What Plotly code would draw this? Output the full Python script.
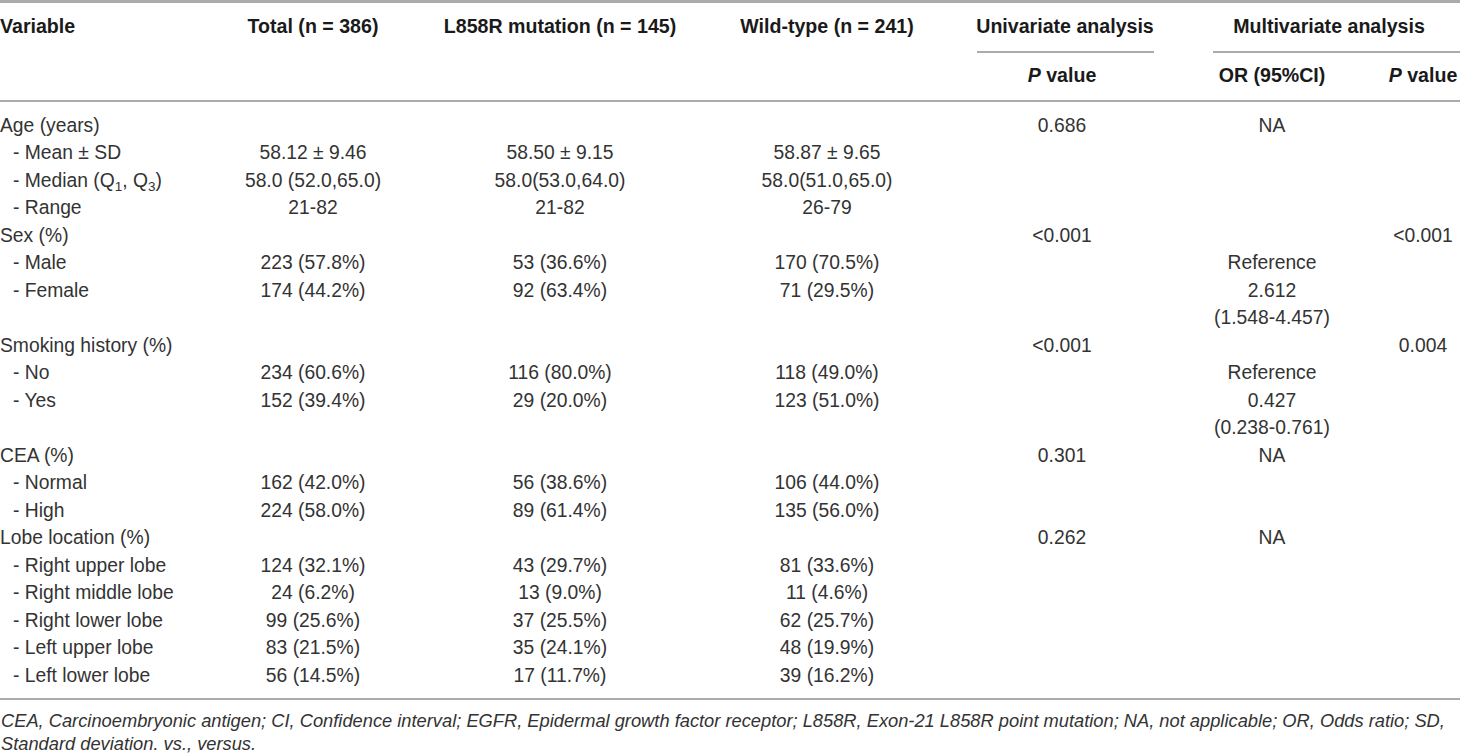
import plotly.graph_objects as go

# Table content
variables = [
    "Age (years)", "- Mean ± SD", "- Median (Q<sub>1</sub>, Q<sub>3</sub>)", "- Range",
    "Sex (%)", "- Male", "- Female", "",
    "Smoking history (%)", "- No", "- Yes", "",
    "CEA (%)", "- Normal", "- High",
    "Lobe location (%)", "- Right upper lobe", "- Right middle lobe",
    "- Right lower lobe", "- Left upper lobe", "- Left lower lobe",
]
total = [
    "", "58.12 ± 9.46", "58.0 (52.0,65.0)", "21-82",
    "", "223 (57.8%)", "174 (44.2%)", "",
    "", "234 (60.6%)", "152 (39.4%)", "",
    "", "162 (42.0%)", "224 (58.0%)",
    "", "124 (32.1%)", "24 (6.2%)", "99 (25.6%)", "83 (21.5%)", "56 (14.5%)",
]
l858r = [
    "", "58.50 ± 9.15", "58.0(53.0,64.0)", "21-82",
    "", "53 (36.6%)", "92 (63.4%)", "",
    "", "116 (80.0%)", "29 (20.0%)", "",
    "", "56 (38.6%)", "89 (61.4%)",
    "", "43 (29.7%)", "13 (9.0%)", "37 (25.5%)", "35 (24.1%)", "17 (11.7%)",
]
wild_type = [
    "", "58.87 ± 9.65", "58.0(51.0,65.0)", "26-79",
    "", "170 (70.5%)", "71 (29.5%)", "",
    "", "118 (49.0%)", "123 (51.0%)", "",
    "", "106 (44.0%)", "135 (56.0%)",
    "", "81 (33.6%)", "11 (4.6%)", "62 (25.7%)", "48 (19.9%)", "39 (16.2%)",
]
uni_p = [
    "0.686", "", "", "",
    "<0.001", "", "", "",
    "<0.001", "", "", "",
    "0.301", "", "",
    "0.262", "", "", "", "", "",
]
multi_or = [
    "NA", "", "", "",
    "", "Reference", "2.612", "(1.548-4.457)",
    "", "Reference", "0.427", "(0.238-0.761)",
    "NA", "", "",
    "NA", "", "", "", "", "",
]
multi_p = [
    "", "", "", "",
    "<0.001", "", "", "",
    "0.004", "", "", "",
    "", "", "",
    "", "", "", "", "", "",
]

header_top = ["Variable", "Total (n = 386)", "L858R mutation (n = 145)",
              "Wild-type (n = 241)", "Univariate analysis", "Multivariate analysis"]
header_sub = ["<i>P</i> value", "OR (95%CI)", "<i>P</i> value"]

footnote = [
    "CEA, Carcinoembryonic antigen; CI, Confidence interval; EGFR, Epidermal growth factor receptor; "
    "L858R, Exon-21 L858R point mutation; NA, not applicable; OR, Odds ratio; SD,",
    "Standard deviation. vs., versus.",
]

# layout (pixel units)
W, H = 1460, 755
row0, row_step = 127, 27.5
col_x = [313, 560, 827, 1062, 1272, 1423]
top_x = [313, 560, 827, 1065, 1329]
sub_x = [1062, 1272, 1423]

FONT = "Liberation Sans, Arial, Helvetica, sans-serif"
body_font = dict(family=FONT, size=19.3, color="#333333")
head_font = dict(family=FONT, size=19.6, color="#1a1a1a")

row_y = [row0 + row_step * i for i in range(len(variables))]

fig = go.Figure()


def text_trace(xs, ys, texts, pos, font):
    # only draw the cells that hold text
    keep = [k for k, t in enumerate(texts) if t]
    return go.Scatter(
        x=[xs[k] for k in keep], y=[ys[k] for k in keep],
        text=[texts[k] for k in keep],
        mode="text", textposition=pos, textfont=font,
        hoverinfo="skip", showlegend=False,
    )


# variable labels: top level at the edge, sub items indented
label_x = [13 if v.startswith("-") else 0 for v in variables]
fig.add_trace(text_trace(label_x, row_y, variables, "middle right", body_font))

for cx, col in zip(col_x, [total, l858r, wild_type, uni_p, multi_or, multi_p]):
    fig.add_trace(text_trace([cx] * len(col), row_y, col, "middle center", body_font))

# header rows
fig.add_trace(text_trace([0], [28], ["<b>" + header_top[0] + "</b>"], "middle right", head_font))
fig.add_trace(text_trace(top_x, [28] * len(top_x),
                         ["<b>" + h + "</b>" for h in header_top[1:]], "middle center", head_font))
fig.add_trace(text_trace(sub_x, [77] * len(sub_x),
                         ["<b>" + h + "</b>" for h in header_sub], "middle center", head_font))

# rules
rule = dict(type="line", xref="x", yref="y", line=dict(color="#ababab", width=2))
fig.add_shape(type="line", xref="x", yref="y", line=dict(color="#ababab", width=3),
              x0=0, x1=W, y0=1.5, y1=1.5)
fig.add_shape(**rule, x0=977, x1=1154, y0=52, y1=52)
fig.add_shape(**rule, x0=1213, x1=W, y0=52, y1=52)
fig.add_shape(**rule, x0=0, x1=W, y0=101, y1=101)
fig.add_shape(**rule, x0=0, x1=W, y0=699, y1=699)

# footnote
for k, line in enumerate(footnote):
    fig.add_annotation(
        x=0, y=720 + 23 * k, xref="x", yref="y",
        text="<i>" + line + "</i>", showarrow=False,
        xanchor="left", yanchor="middle", borderpad=0,
        font=dict(family=FONT, size=18.3, color="#333333"),
    )

fig.update_layout(
    width=W, height=H, autosize=False,
    margin=dict(l=0, r=0, t=0, b=0),
    paper_bgcolor="white", plot_bgcolor="white",
    xaxis=dict(range=[0, W], visible=False, fixedrange=True),
    yaxis=dict(range=[H, 0], visible=False, fixedrange=True),
)

fig.write_html("out.html", config={"displayModeBar": False},
               post_script="document.body.style.margin='0';")
